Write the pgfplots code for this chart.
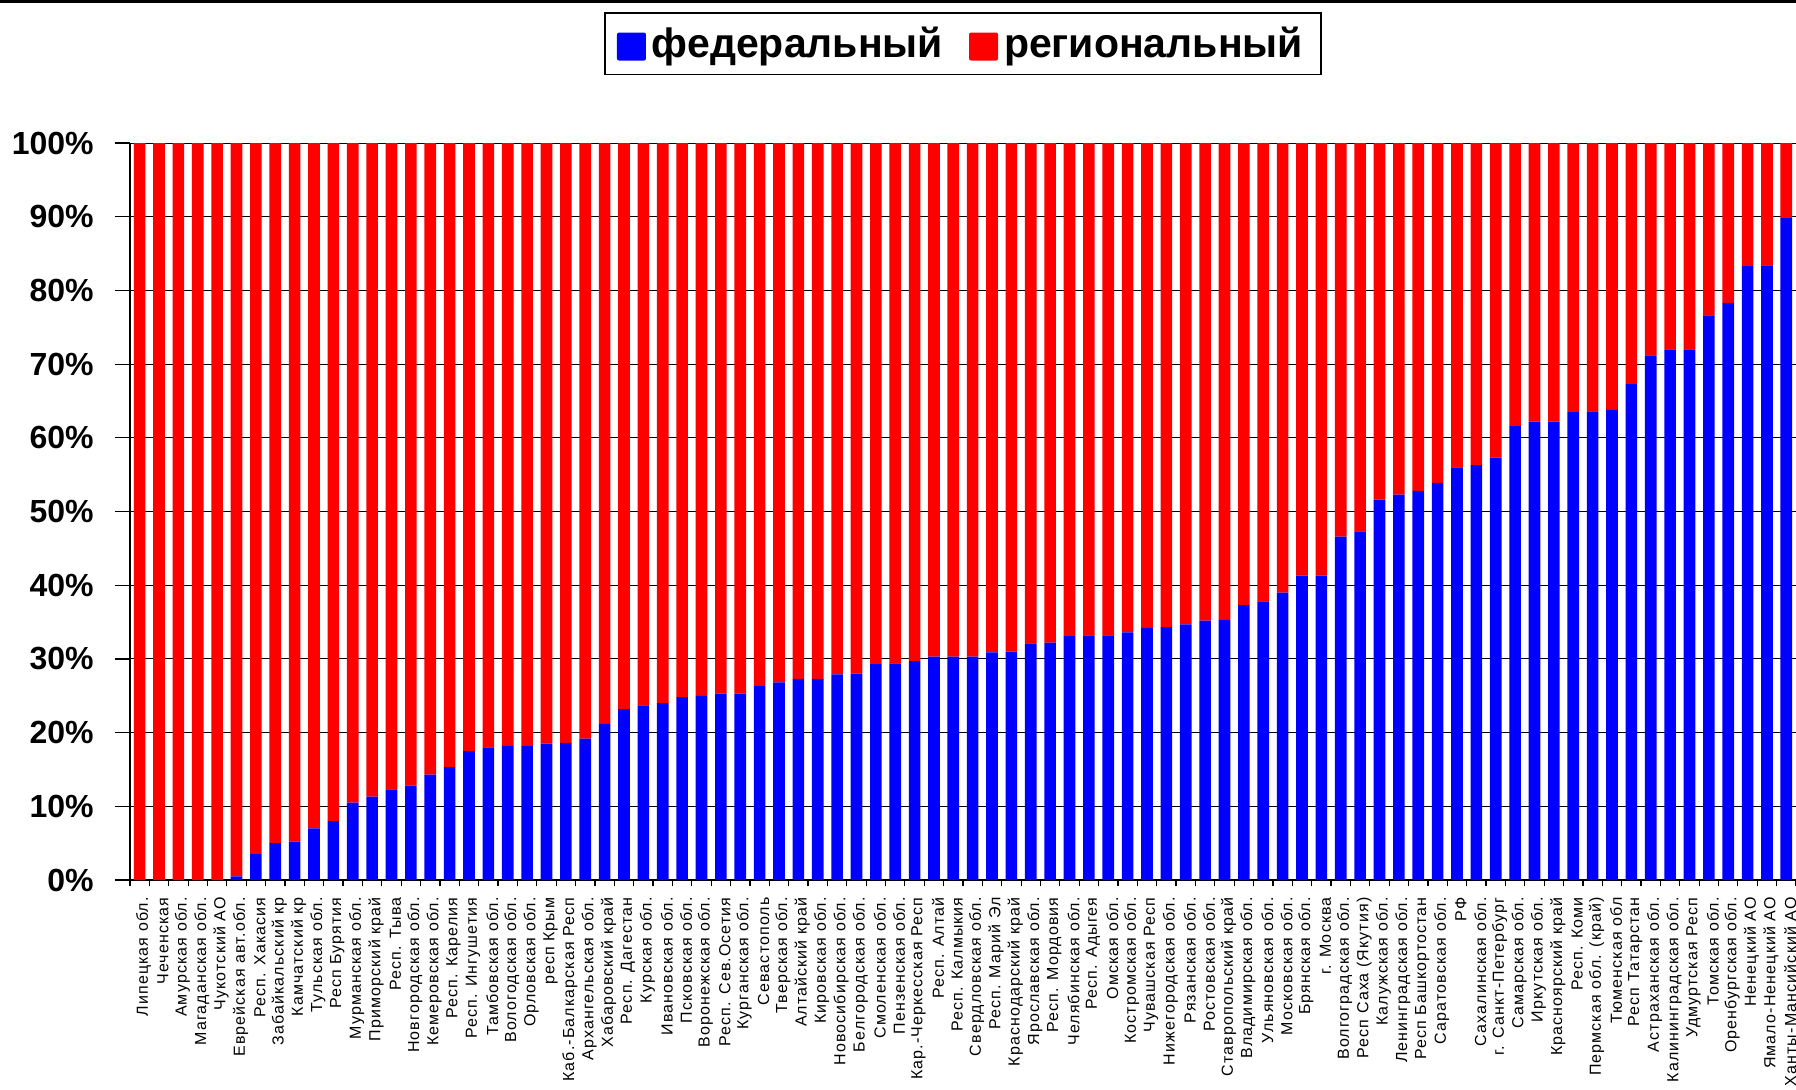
\documentclass[border=0pt]{standalone}
\usepackage{fontspec}
\setmainfont{Liberation Sans}
\newfontfamily\lblfont[LetterSpace=7]{Liberation Sans}
\usepackage{pgfplots}
\usepackage{pgfplotstable}
\pgfplotsset{compat=1.18}

\definecolor{fedblue}{RGB}{0,0,255}
\definecolor{regred}{RGB}{255,0,0}

% share of federal / regional funding, percent
\pgfplotstableread{
idx fed reg
1 0 100
2 0 100
3 0 100
4 0 100
5 0 100
6 0.5 99.5
7 3.5 96.5
8 5.0 95.0
9 5.2 94.8
10 7.0 93.0
11 8.0 92.0
12 10.5 89.5
13 11.3 88.7
14 12.3 87.7
15 12.8 87.2
16 14.3 85.7
17 15.3 84.7
18 17.5 82.5
19 18.0 82.0
20 18.2 81.8
21 18.2 81.8
22 18.5 81.5
23 18.6 81.4
24 19.2 80.8
25 21.2 78.8
26 23.2 76.8
27 23.7 76.3
28 24.0 76.0
29 24.8 75.2
30 25.0 75.0
31 25.3 74.7
32 25.3 74.7
33 26.3 73.7
34 26.8 73.2
35 27.3 72.7
36 27.3 72.7
37 27.9 72.1
38 28.0 72.0
39 29.3 70.7
40 29.4 70.6
41 29.7 70.3
42 30.3 69.7
43 30.3 69.7
44 30.3 69.7
45 30.9 69.1
46 31.0 69.0
47 32.1 67.9
48 32.2 67.8
49 33.1 66.9
50 33.2 66.8
51 33.2 66.8
52 33.6 66.4
53 34.2 65.8
54 34.3 65.7
55 34.7 65.3
56 35.2 64.8
57 35.3 64.7
58 37.3 62.7
59 37.8 62.2
60 39.0 61.0
61 41.3 58.7
62 41.3 58.7
63 46.6 53.4
64 47.3 52.7
65 51.6 48.4
66 52.3 47.7
67 52.8 47.2
68 53.9 46.1
69 56.0 44.0
70 56.3 43.7
71 57.3 42.7
72 61.6 38.4
73 62.2 37.8
74 62.2 37.8
75 63.5 36.5
76 63.6 36.4
77 63.8 36.2
78 67.3 32.7
79 71.2 28.8
80 72.0 28.0
81 72.0 28.0
82 76.6 23.4
83 78.3 21.7
84 83.3 16.7
85 83.4 16.6
86 89.8 10.2
}\shares

\begin{document}
\begin{tikzpicture}
\useasboundingbox (-65pt,-104.5pt) rectangle (833pt,440pt);
\fill[black] (-65pt,438.5pt) rectangle (833pt,440pt);
\begin{axis}[
    at={(0pt,0pt)}, anchor=south west,
    scale only axis,
    width=833pt, height=368.5pt,
    ybar stacked, bar width=0.6,
    xmin=0.5, xmax=86.5, ymin=0, ymax=100,
    axis lines*=left,
    axis line style={black, line width=0.6pt},
    tick align=outside,
    major tick length=7.5pt,
    minor tick length=3pt,
    tick style={black, line width=0.6pt},
    ymajorgrids,
    major grid style={black, line width=0.5pt},
    ytick={0,10,...,100},
    yticklabel={\pgfmathprintnumber{\tick}\%},
    /pgf/number format/assume math mode=true,
    yticklabel style={font=\fontsize{16}{19}\selectfont\bfseries, inner sep=0pt, xshift=-10.5pt},
    xtick={1,...,86},
    major x tick style={draw=none},
    minor xtick={0.5,1.5,...,86.5},
    xticklabels={Липецкая обл.,Чеченская,Амурская обл.,Магаданская обл.,Чукотский АО,Еврейская авт.обл.,Респ. Хакасия,Забайкальский кр,Камчатский кр,Тульская обл.,Респ Бурятия,Мурманская обл.,Приморский край,Респ. Тыва,Новгородская обл.,Кемеровская обл.,Респ. Карелия,Респ. Ингушетия,Тамбовская обл.,Вологодская обл.,Орловская обл.,респ Крым,Каб.-Балкарская Респ,Архангельская обл.,Хабаровский край,Респ. Дагестан,Курская обл.,Ивановская обл.,Псковская обл.,Воронежская обл.,Респ. Сев.Осетия,Курганская обл.,Севастополь,Тверская обл.,Алтайский край,Кировская обл.,Новосибирская обл.,Белгородская обл.,Смоленская обл.,Пензенская обл.,Кар.-Черкесская Респ,Респ. Алтай,Респ. Калмыкия,Свердловская обл.,Респ. Марий Эл,Краснодарский край,Ярославская обл.,Респ. Мордовия,Челябинская обл.,Респ. Адыгея,Омская обл.,Костромская обл.,Чувашская Респ,Нижегородская обл.,Рязанская обл.,Ростовская обл.,Ставропольский край,Владимирская обл.,Ульяновская обл.,Московская обл.,Брянская обл.,г. Москва,Волгоградская обл.,Респ Саха (Якутия),Калужская обл.,Ленинградская обл.,Респ Башкортостан,Саратовская обл.,РФ,Сахалинская обл.,г. Санкт-Петербург,Самарская обл.,Иркутская обл.,Красноярский край,Респ. Коми,Пермская обл. (край),Тюменская обл,Респ Татарстан,Астраханская обл.,Калининградская обл.,Удмуртская Респ,Томская обл.,Оренбургская обл.,Ненецкий АО,Ямало-Ненецкий АО,Ханты-Мансийский АО},
    xticklabel style={rotate=90, anchor=east, font=\lblfont\fontsize{8}{9}\selectfont, inner sep=1pt, yshift=-2pt},
    legend columns=2,
    legend style={at={(0.5,1.1777)}, anchor=north, draw=black, line width=0.75pt,
        font=\fontsize{20.5}{24}\selectfont\bfseries,
        inner xsep=6pt, inner ysep=3pt,
        nodes={inner xsep=3pt, inner ysep=4pt},
        /tikz/every even column/.append style={column sep=10pt}},
]
\addplot[fill=fedblue, draw=none,
    legend image code/.code={\fill[fedblue, rounded corners=1pt] (0pt,-8.5pt) rectangle (14.5pt,5.5pt);}]
    table[x=idx, y=fed] {\shares};
\addlegendentry{федеральный}
\addplot[fill=regred, draw=none,
    legend image code/.code={\fill[regred, rounded corners=1pt] (0pt,-8.5pt) rectangle (14.5pt,5.5pt);}]
    table[x=idx, y=reg] {\shares};
\addlegendentry{региональный}
\end{axis}
\end{tikzpicture}
\end{document}
